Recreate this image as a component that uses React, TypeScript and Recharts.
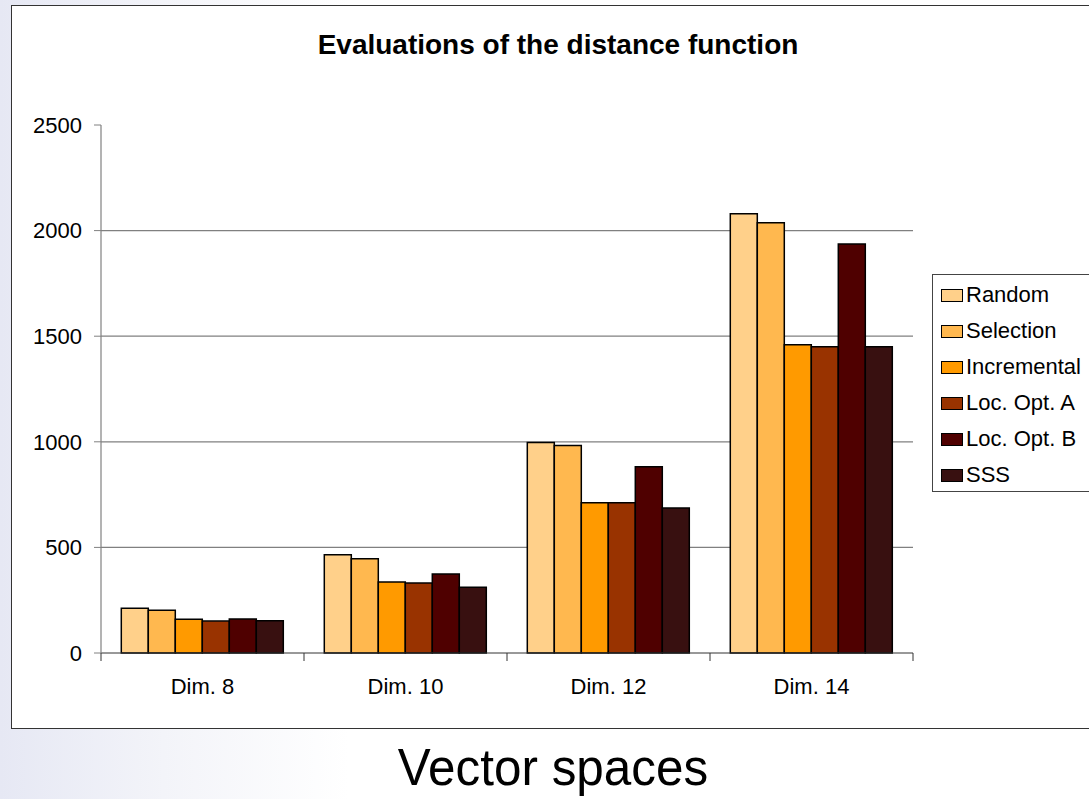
import React from 'react';
import { BarChart, Bar, XAxis, YAxis, CartesianGrid } from 'recharts';

const categories = ['Dim. 8', 'Dim. 10', 'Dim. 12', 'Dim. 14'];
const random = [212, 465, 997, 2080];
const selection = [202, 446, 983, 2037];
const incremental = [160, 336, 712, 1460];
const locOptA = [151, 331, 712, 1450];
const locOptB = [161, 374, 882, 1937];
const sss = [153, 311, 687, 1450];
const yTicks = [0, 500, 1000, 1500, 2000, 2500];

const seriesDefs = [
  { key: 'Random', values: random, color: '#FFD08A' },
  { key: 'Selection', values: selection, color: '#FFB84F' },
  { key: 'Incremental', values: incremental, color: '#FF9A00' },
  { key: 'Loc. Opt. A', values: locOptA, color: '#993300' },
  { key: 'Loc. Opt. B', values: locOptB, color: '#4F0000' },
  { key: 'SSS', values: sss, color: '#381010' },
];

const data = categories.map((c, i) => {
  const row: any = { name: c };
  seriesDefs.forEach((s) => (row[s.key] = s.values[i]));
  return row;
});

const FONT = '"Liberation Sans", Arial, sans-serif';

const XTick = (props: any) => {
  const { x, y, payload, index } = props;
  const off = payload.offset || 0;
  return (
    <g>
      <line x1={x - off} y1={y} x2={x - off} y2={y + 8} stroke="#333" strokeWidth={1} />
      {index === categories.length - 1 && (
        <line x1={x + off} y1={y} x2={x + off} y2={y + 8} stroke="#333" strokeWidth={1} />
      )}
      <text x={x} y={y + 35} textAnchor="middle" dominantBaseline="middle" fontSize={22} fontFamily={FONT} fill="#000">
        {payload.value}
      </text>
    </g>
  );
};

const LegendBox = () => (
  <div
    style={{
      position: 'absolute',
      left: 920,
      top: 268,
      border: '1px solid #444',
      background: '#fff',
      width: 200,
      height: 218,
      boxSizing: 'border-box',
      paddingTop: 2,
      fontFamily: FONT,
    }}
  >
    {seriesDefs.map((s) => (
      <div key={s.key} style={{ display: 'flex', alignItems: 'center', height: 36, paddingLeft: 8 }}>
        <span
          style={{
            display: 'inline-block',
            width: 22,
            height: 13,
            background: s.color,
            border: '1.5px solid #000',
            boxSizing: 'border-box',
            marginRight: 3,
          }}
        />
        <span style={{ fontSize: 22, color: '#000', lineHeight: '22px' }}>{s.key}</span>
      </div>
    ))}
  </div>
);

export default function App() {
  return (
    <div
      style={{
        position: 'absolute',
        left: 0,
        top: 0,
        width: 1089,
        height: 799,
        overflow: 'hidden',
        background: 'linear-gradient(to right, #e6e8f4 0%, #f3f4f9 15%, #ffffff 32%)',
        fontFamily: FONT,
      }}
    >
      <div
        style={{
          position: 'absolute',
          left: 11,
          top: 5,
          width: 1100,
          height: 722,
          border: '1px solid #333',
          background: '#fff',
        }}
      >
        <div
          style={{
            position: 'absolute',
            left: 0,
            top: 23,
            width: 1092,
            textAlign: 'center',
            fontWeight: 'bold',
            fontSize: 28,
            color: '#000',
          }}
        >
          Evaluations of the distance function
        </div>
        <div style={{ position: 'absolute', left: 0, top: 0 }}>
          <BarChart
            width={1077}
            height={722}
            data={data}
            margin={{ top: 119, right: 176, bottom: 45, left: 0 }}
            barCategoryGap="10%"
            barGap={0}
          >
            <CartesianGrid vertical={false} horizontalValues={[500, 1000, 1500, 2000]} stroke="#808080" strokeWidth={1.2} />
            <XAxis
              dataKey="name"
              tickLine={false}
              tickSize={0}
              tickMargin={0}
              axisLine={{ stroke: '#333', strokeWidth: 1 }}
              tick={<XTick />}
              interval={0}
            />
            <YAxis
              width={89}
              domain={[0, 2500]}
              ticks={yTicks}
              interval={0}
              tickSize={7}
              tickMargin={12}
              tickLine={{ stroke: '#808080' }}
              axisLine={{ stroke: '#808080', strokeWidth: 1.2 }}
              tick={{ fontSize: 22, fill: '#000', fontFamily: FONT }}
            />
            {seriesDefs.map((s) => (
              <Bar
                key={s.key}
                dataKey={s.key}
                fill={s.color}
                stroke="#000"
                strokeWidth={1.5}
                isAnimationActive={false}
              />
            ))}
          </BarChart>
        </div>
        <LegendBox />
      </div>
      <div
        style={{
          position: 'absolute',
          left: 0,
          top: 739,
          width: 1106,
          textAlign: 'center',
          fontFamily: FONT,
          fontSize: 52,
          lineHeight: '56px',
          color: '#000',
          transform: 'scaleX(0.95)',
        }}
      >
        Vector spaces
      </div>
    </div>
  );
}
